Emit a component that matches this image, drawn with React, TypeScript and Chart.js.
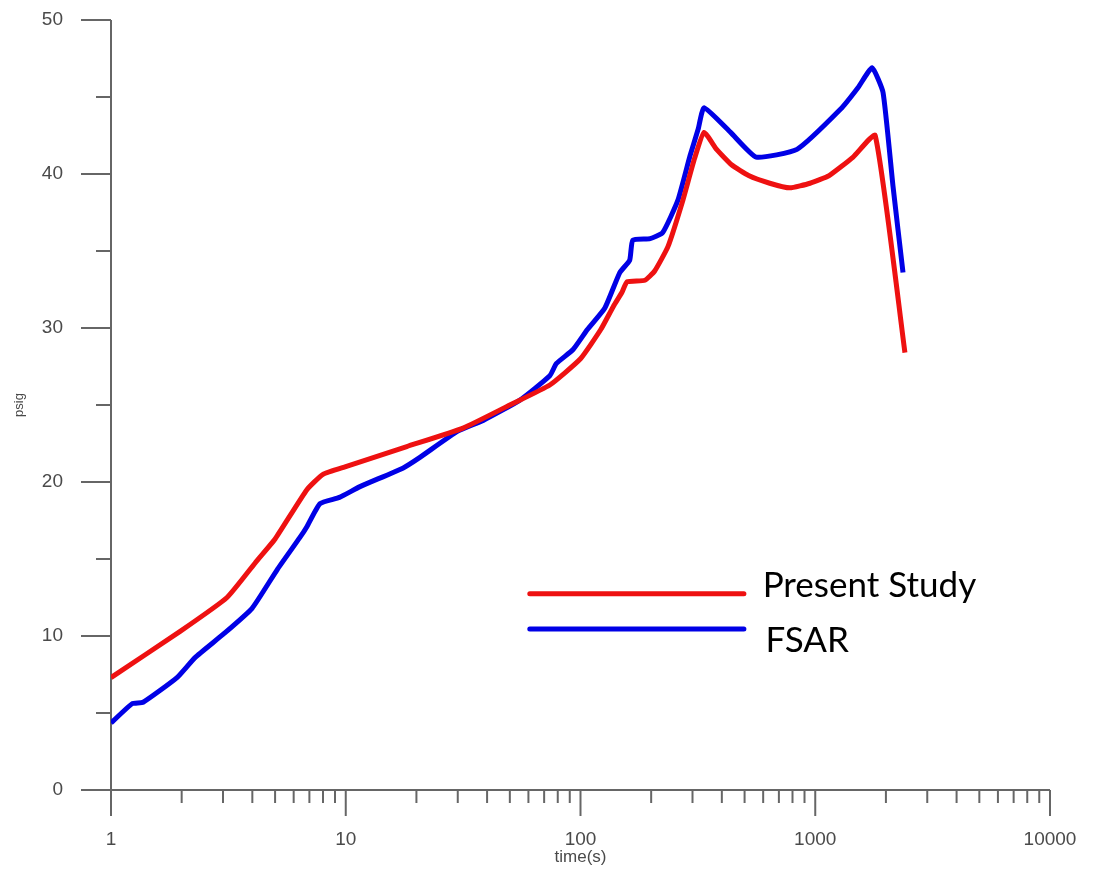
import React, { useEffect, useRef } from "react";
import { Chart, registerables } from "chart.js";

Chart.register(...registerables);

// ---- Data (time in s, pressure in psig) ----
const presentTime = [1.0, 1.97, 3.12, 4.19, 5.0, 6.83, 8.0, 10, 18.2, 31.6, 50, 74, 100, 122, 138, 150, 158, 188, 207, 236, 273, 306, 336, 380, 440, 520, 640, 780, 950, 1146, 1450, 1800, 2410];
const presentPsig = [7.3, 10.3, 12.5, 14.9, 16.3, 19.5, 20.5, 21.0, 22.3, 23.5, 25.0, 26.3, 28.0, 29.9, 31.4, 32.3, 33.0, 33.1, 33.7, 35.3, 38.3, 41.0, 42.7, 41.6, 40.6, 39.9, 39.4, 39.1, 39.4, 39.9, 41.1, 42.5, 28.4];

const fsarTime = [1.0, 1.23, 1.37, 1.91, 2.28, 3.0, 3.99, 5.1, 6.38, 6.83, 7.77, 9.4, 11.5, 17.5, 20.7, 30, 38.5, 55, 74, 79, 93, 107, 127, 147, 162, 167, 198, 224, 260, 293, 317, 336, 436, 560, 836, 1280, 1520, 1746, 1944, 2144, 2365];
const fsarPsig = [4.35, 5.6, 5.7, 7.3, 8.6, 10.1, 11.8, 14.3, 16.4, 17.1, 18.6, 19.0, 19.7, 20.9, 21.6, 23.3, 24.0, 25.3, 26.9, 27.7, 28.6, 29.9, 31.3, 33.6, 34.4, 35.7, 35.8, 36.2, 38.3, 41.2, 42.9, 44.3, 42.7, 41.1, 41.6, 44.2, 45.6, 46.9, 45.3, 39.2, 33.6];

const seriesNames = ["Present Study", "FSAR"];
const seriesColors = ["#ee1111", "#0000e6"];

const xTickValues = [1, 2, 3, 4, 5, 6, 7, 8, 9, 10, 20, 30, 40, 50, 60, 70, 80, 90, 100, 200, 300, 400, 500, 600, 700, 800, 900, 1000, 2000, 3000, 4000, 5000, 6000, 7000, 8000, 9000, 10000];
const yTickValues = [0, 5, 10, 15, 20, 25, 30, 35, 40, 45, 50];

const xTitle = "time(s)";
const yTitle = "psig";

const isMajorX = (v: number) => Math.abs(Math.log10(v) - Math.round(Math.log10(v))) < 1e-9;
const isMajorY = (v: number) => v % 10 === 0;

const axisPlugin = {
  id: "customAxes",
  beforeDatasetsDraw(chart: any) {
    const { ctx, chartArea, scales } = chart;
    const xs = scales.x;
    const ys = scales.y;
    ctx.save();
    ctx.strokeStyle = "#666";
    ctx.lineWidth = 2;
    ctx.lineCap = "butt";
    ctx.beginPath();
    ctx.moveTo(chartArea.left, ys.getPixelForValue(50));
    ctx.lineTo(chartArea.left, chartArea.bottom + 26);
    ctx.stroke();
    ctx.beginPath();
    ctx.moveTo(chartArea.left - 30, chartArea.bottom);
    ctx.lineTo(chartArea.right, chartArea.bottom);
    ctx.stroke();
    for (const v of yTickValues) {
      const py = ys.getPixelForValue(v);
      const len = isMajorY(v) ? 30 : 15;
      ctx.beginPath();
      ctx.moveTo(chartArea.left - len, py);
      ctx.lineTo(chartArea.left, py);
      ctx.stroke();
    }
    for (const v of xTickValues) {
      const px = xs.getPixelForValue(v);
      const len = isMajorX(v) ? 26 : 13;
      ctx.beginPath();
      ctx.moveTo(px, chartArea.bottom);
      ctx.lineTo(px, chartArea.bottom + len);
      ctx.stroke();
    }
    ctx.restore();
  },
};

const legendPlugin = {
  id: "customLegend",
  afterDraw(chart: any) {
    const { ctx, chartArea } = chart;
    const w = chartArea.right - chartArea.left;
    const h = chartArea.bottom - chartArea.top;
    const x0 = chartArea.left + 0.446 * w;
    const x1 = chartArea.left + 0.674 * w;
    const rows = [
      { lineY: chartArea.top + 0.745 * h, textX: chartArea.left + 0.694 * w, textY: chartArea.top + 0.749 * h },
      { lineY: chartArea.top + 0.791 * h, textX: chartArea.left + 0.697 * w, textY: chartArea.top + 0.821 * h },
    ];
    ctx.save();
    rows.forEach((r, i) => {
      ctx.strokeStyle = seriesColors[i];
      ctx.lineWidth = 5;
      ctx.lineCap = "round";
      ctx.beginPath();
      ctx.moveTo(x0, r.lineY);
      ctx.lineTo(x1, r.lineY);
      ctx.stroke();
      ctx.fillStyle = "#000";
      ctx.font = "35px Lato";
      ctx.textAlign = "left";
      ctx.textBaseline = "alphabetic";
      ctx.fillText(seriesNames[i], r.textX, r.textY);
    });
    ctx.restore();
  },
};

export default function App() {
  const canvasRef = useRef<HTMLCanvasElement | null>(null);

  useEffect(() => {
    if (!canvasRef.current) return;
    const toPoints = (xs: number[], ys: number[]) => xs.map((x, i) => ({ x, y: ys[i] }));
    const chart = new Chart(canvasRef.current, {
      type: "line",
      data: {
        datasets: [
          {
            label: seriesNames[0],
            data: toPoints(presentTime, presentPsig),
            borderColor: seriesColors[0],
            borderWidth: 5,
            pointRadius: 0,
            tension: 0.15,
            fill: false,
          },
          {
            label: seriesNames[1],
            data: toPoints(fsarTime, fsarPsig),
            borderColor: seriesColors[1],
            borderWidth: 5,
            pointRadius: 0,
            tension: 0.15,
            fill: false,
          },
        ],
      },
      options: {
        animation: false,
        responsive: true,
        maintainAspectRatio: false,
        layout: { padding: { top: 12, right: 40, bottom: 0, left: 0 } },
        plugins: {
          legend: { display: false },
          tooltip: { enabled: false },
        },
        scales: {
          x: {
            type: "logarithmic",
            min: 1,
            max: 10000,
            position: "bottom",
            grid: { display: false, drawTicks: false },
            border: { display: false },
            afterBuildTicks: (scale: any) => {
              scale.ticks = xTickValues.map((v) => ({ value: v }));
            },
            afterFit: (scale: any) => {
              scale.height = 78;
              scale.paddingLeft = 0;
              scale.paddingRight = 0;
            },
            ticks: {
              autoSkip: false,
              maxRotation: 0,
              padding: 38,
              color: "#4a4a4a",
              font: { family: "Liberation Sans", size: 19 },
              callback: (v: any) => (isMajorX(Number(v)) ? String(v) : ""),
            },
            title: {
              display: true,
              text: xTitle,
              color: "#4a4a4a",
              font: { family: "Liberation Sans", size: 17 },
              padding: { top: 0, bottom: 0 },
            },
          },
          y: {
            type: "linear",
            min: 0,
            max: 50,
            grid: { display: false, drawTicks: false },
            border: { display: false },
            afterBuildTicks: (scale: any) => {
              scale.ticks = yTickValues.map((v) => ({ value: v }));
            },
            afterFit: (scale: any) => {
              scale.width = 103;
              scale.paddingTop = 0;
              scale.paddingBottom = 0;
            },
            ticks: {
              autoSkip: false,
              padding: 48,
              color: "#4a4a4a",
              font: { family: "Liberation Sans", size: 19 },
              callback: (v: any) => (isMajorY(Number(v)) ? String(v) : ""),
            },
            title: {
              display: true,
              text: yTitle,
              color: "#4a4a4a",
              font: { family: "Liberation Sans", size: 13 },
              padding: { top: 4, bottom: 0 },
            },
          },
        },
      },
      plugins: [axisPlugin, legendPlugin],
    });
    return () => chart.destroy();
  }, []);

  return (
    <div style={{ width: 1082, height: 860, position: "relative" }}>
      <canvas ref={canvasRef} />
    </div>
  );
}
